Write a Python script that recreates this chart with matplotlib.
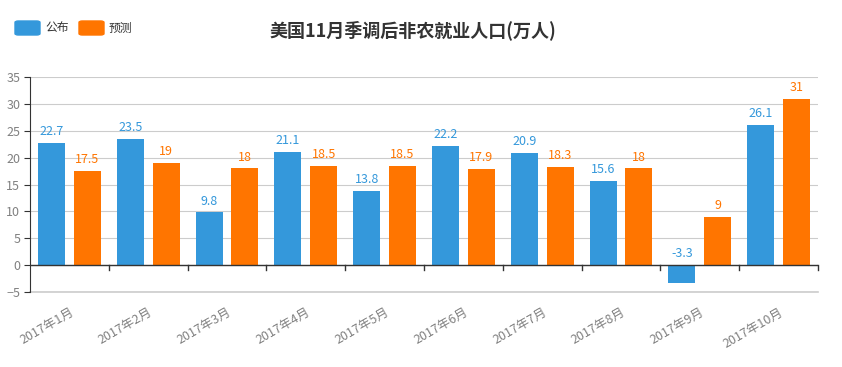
import numpy as np
import matplotlib
matplotlib.use("Agg")
import matplotlib.pyplot as plt
from matplotlib.patches import FancyBboxPatch

plt.rcParams["font.family"] = ["Noto Sans CJK SC", "DejaVu Sans"]

months = ["2017年1月", "2017年2月", "2017年3月", "2017年4月", "2017年5月",
          "2017年6月", "2017年7月", "2017年8月", "2017年9月", "2017年10月"]
published = [22.7, 23.5, 9.8, 21.1, 13.8, 22.2, 20.9, 15.6, -3.3, 26.1]
forecast = [17.5, 19, 18, 18.5, 18.5, 17.9, 18.3, 18, 9, 31]
series_names = ["公布", "预测"]

BLUE = "#3498db"
ORANGE = "#ff7500"
GRAY_TXT = "#808080"
W, H = 842, 367

fig = plt.figure(figsize=(W / 100, H / 100), dpi=100)
ax = fig.add_axes([30 / W, 1 - 292 / H, 788 / W, 215 / H])

x = np.arange(len(months))
w = 0.343
off = 0.228
ax.bar(x - off, published, w, color=BLUE, zorder=3)
ax.bar(x + off, forecast, w, color=ORANGE, zorder=3)

for xi, v in zip(x, published):
    ax.text(xi - off, max(v, 0) + 0.9, f"{v:g}", color=BLUE, ha="center",
            va="bottom", fontsize=9)
for xi, v in zip(x, forecast):
    ax.text(xi + off, max(v, 0) + 0.9, f"{v:g}", color=ORANGE, ha="center",
            va="bottom", fontsize=9)

ax.set_xlim(-0.5, len(months) - 0.5)
ax.set_ylim(-5, 35)
ax.set_yticks(range(-5, 36, 5))
ax.yaxis.grid(True, color="#cccccc", lw=0.8, zorder=0)
ax.axhline(-5, color="#cccccc", lw=1.2, zorder=0, clip_on=False)
ax.tick_params(axis="y", labelsize=9, length=4, color="#333333",
               labelcolor=GRAY_TXT, pad=3)

ax.spines[["top", "right", "bottom"]].set_visible(False)
ax.spines["left"].set_color("#333333")
ax.axhline(0, color="#333333", lw=1, zorder=4)

# category boundary ticks on the zero line
for b in np.arange(0.5, len(months), 1.0):
    ax.plot([b, b], [0, -0.9], color="#333333", lw=1, zorder=4, clip_on=False)

ax.set_xticks([])
for xi, m in zip(x, months):
    ax.text(xi, -7.6, m, rotation=30, ha="right", va="top", color=GRAY_TXT,
            fontsize=9, rotation_mode="anchor")

fig.text(0.49, 1 - 30 / H, "美国11月季调后非农就业人口(万人)", ha="center", va="center",
         fontsize=13, fontweight="bold", color="#333333")

# legend
for x0, col, name in [(15, BLUE, series_names[0]), (79, ORANGE, series_names[1])]:
    fig.patches.append(FancyBboxPatch((x0 / W, 1 - 35 / H), 25 / W, 14 / H,
                                      boxstyle="round,pad=0,rounding_size=0.004",
                                      transform=fig.transFigure, color=col))
    fig.text((x0 + 30) / W, 1 - 28 / H, name, va="center", fontsize=8.5,
             color="#333333")

fig.savefig("out.png", dpi=100)
